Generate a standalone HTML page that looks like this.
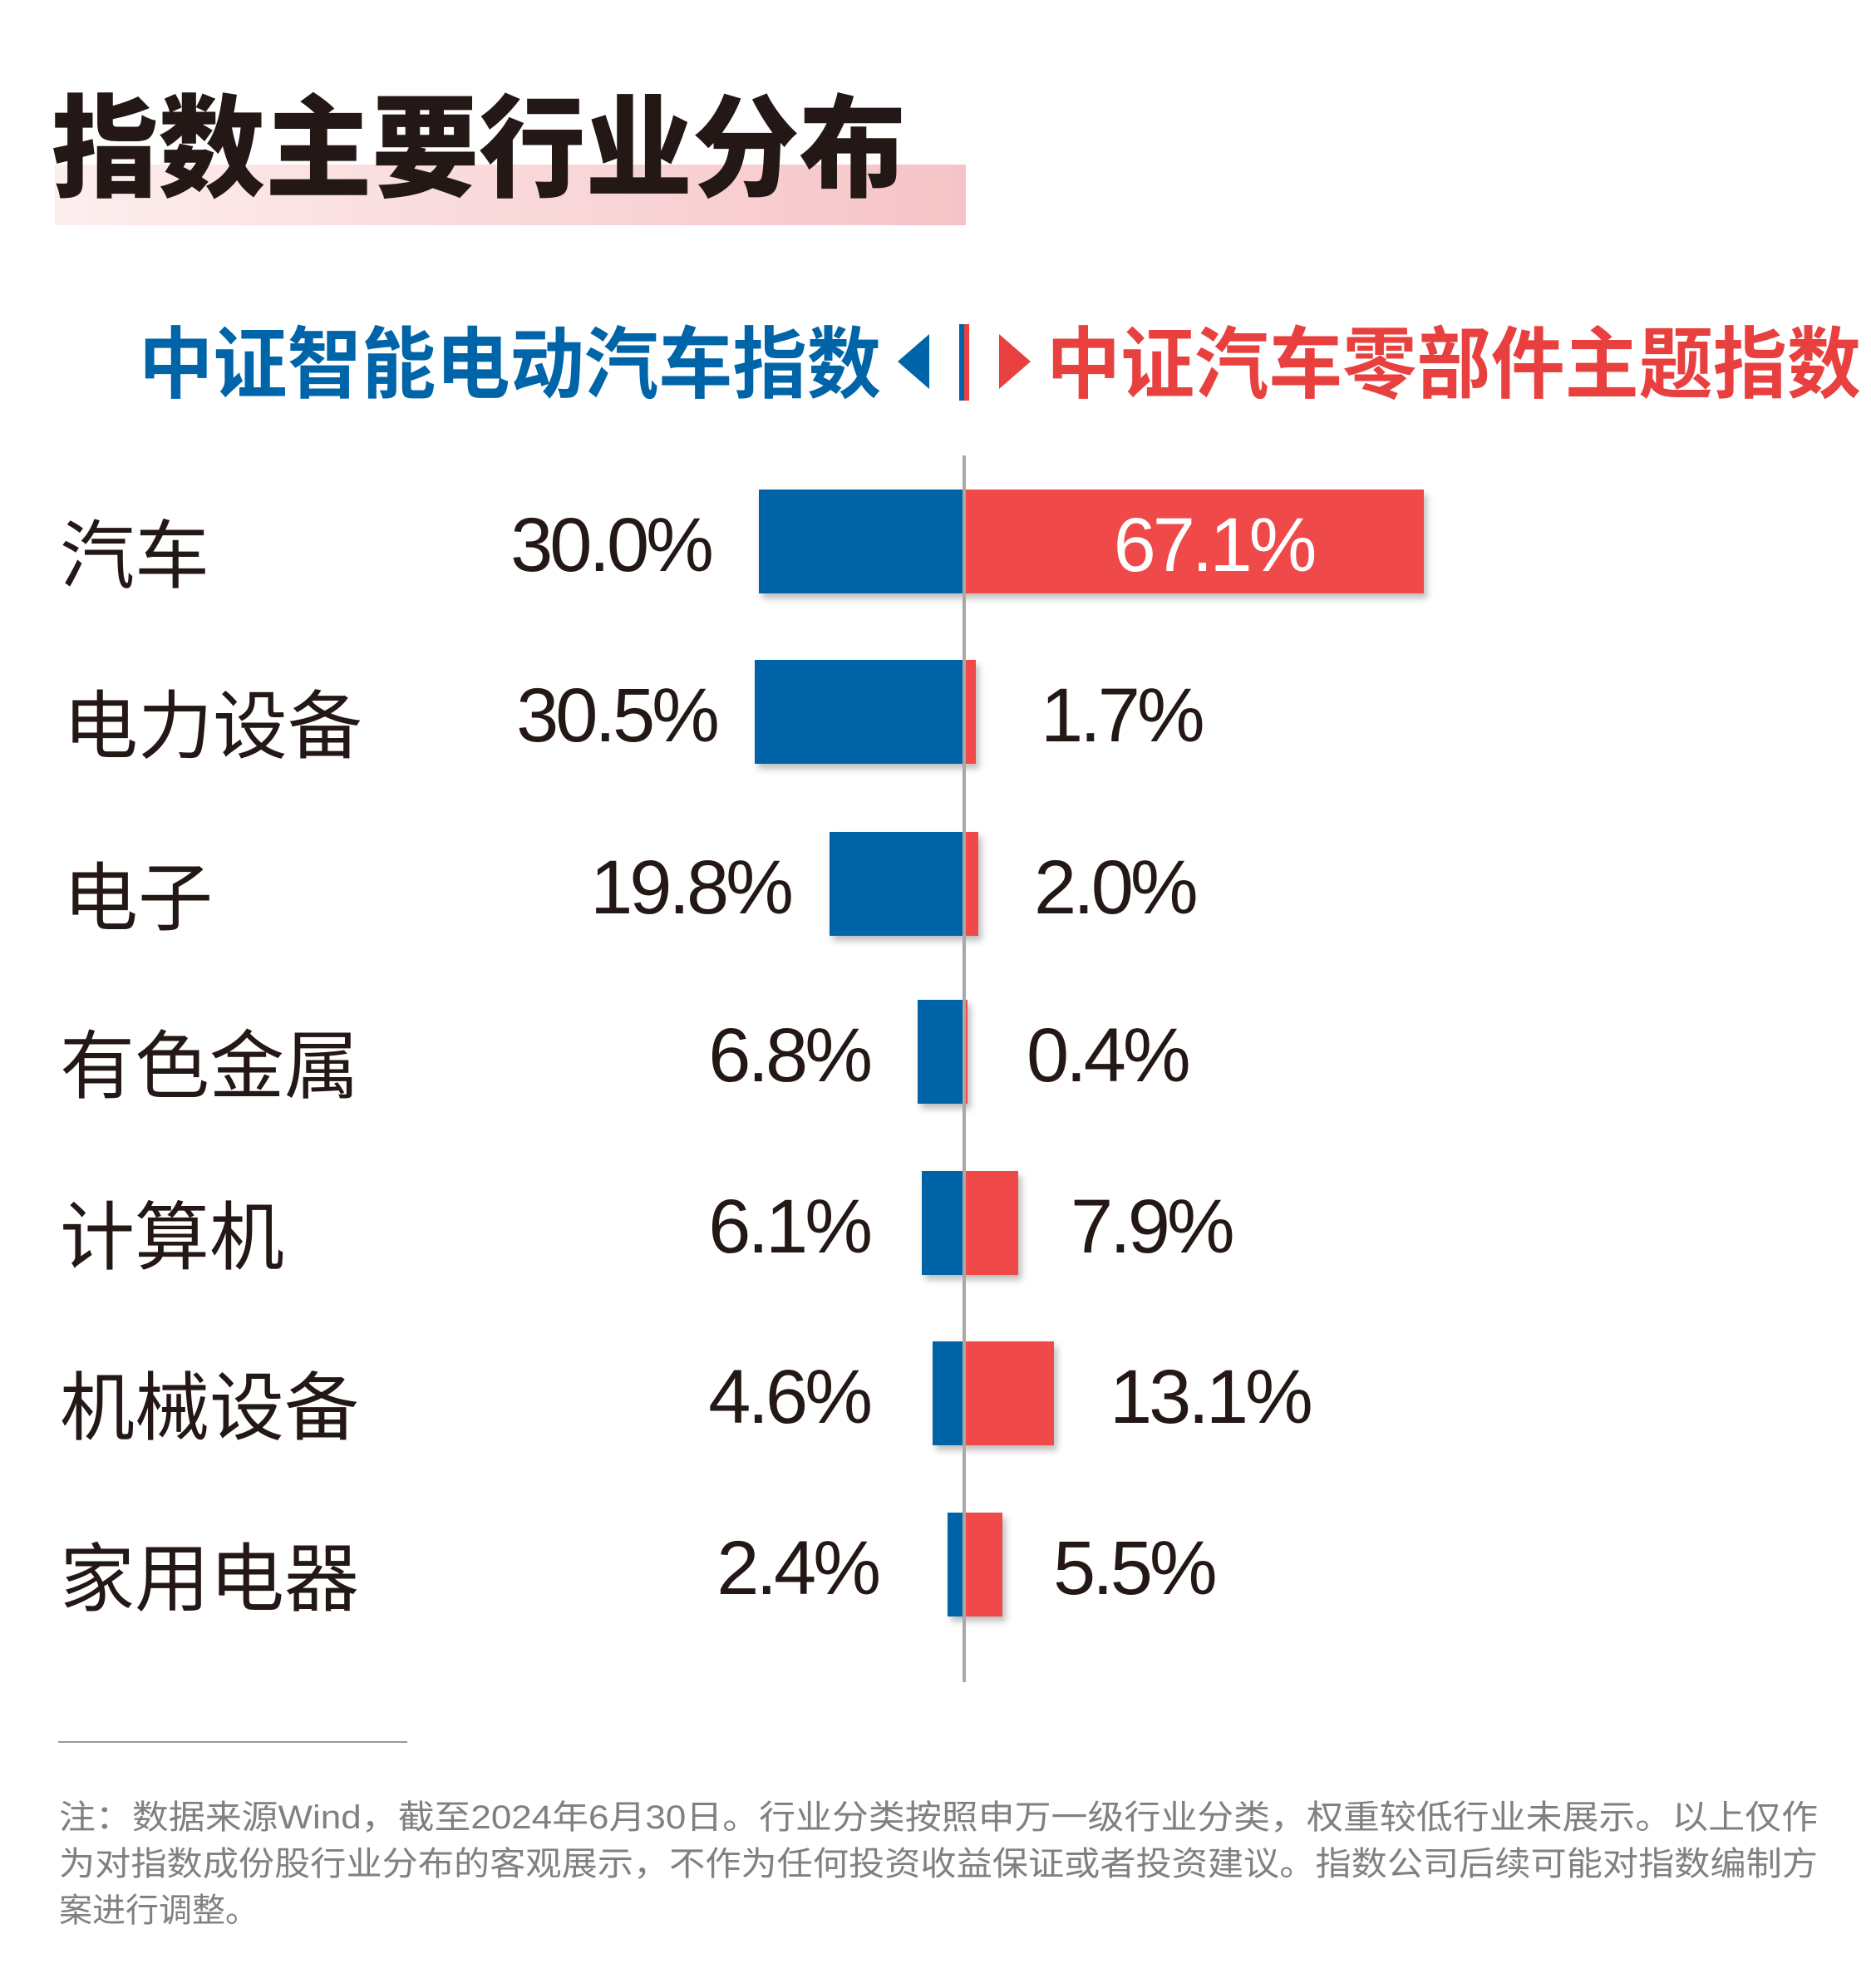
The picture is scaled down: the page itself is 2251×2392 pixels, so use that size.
<!DOCTYPE html>
<html><head><meta charset="utf-8"><style>
html,body{margin:0;padding:0;background:#fff}
svg{display:block}
text{font-family:"Liberation Sans","Noto Sans CJK SC",sans-serif}
</style></head><body>
<svg width="2251" height="2392" viewBox="0 0 2251 2392" xmlns="http://www.w3.org/2000/svg">
<defs>
<linearGradient id="pk" x1="0" x2="1"><stop offset="0" stop-color="#fdeeee"/><stop offset="1" stop-color="#f6c4c7"/></linearGradient>
<filter id="sh" x="-10%" y="-10%" width="130%" height="130%"><feDropShadow dx="4" dy="6" stdDeviation="4" flood-color="#000" flood-opacity="0.25"/></filter>
</defs>
<rect x="66" y="198" width="1096" height="73" fill="url(#pk)"/>
<text x="62" y="226" font-size="134" font-weight="900" fill="#231815" textLength="1028" lengthAdjust="spacingAndGlyphs" font-family="Noto Sans CJK SC,sans-serif">指数主要行业分布</text>

<text x="167" y="471" font-size="94" font-weight="700" fill="#0064a8" textLength="893" lengthAdjust="spacingAndGlyphs" font-family="Noto Sans CJK SC,sans-serif">中证智能电动汽车指数</text>
<polygon points="1118,402 1118,468 1080,435" fill="#0064a8"/>
<rect x="1154" y="390" width="6" height="92" fill="#0064a8"/>
<rect x="1160" y="390" width="6" height="92" fill="#e8403f"/>
<polygon points="1202,402 1202,468 1240,435" fill="#e8403f"/>
<text x="1259" y="471" font-size="94" font-weight="700" fill="#e8403f" textLength="980" lengthAdjust="spacingAndGlyphs" font-family="Noto Sans CJK SC,sans-serif">中证汽车零部件主题指数</text>

<g fill="#231815" font-size="90" font-family="Noto Sans CJK SC,sans-serif">
<text x="72" y="700">汽车</text>
<text x="76" y="905">电力设备</text>
<text x="76" y="1112">电子</text>
<text x="72" y="1314">有色金属</text>
<text x="72" y="1520">计算机</text>
<text x="72" y="1725">机械设备</text>
<text x="72" y="1931">家用电器</text>
</g>

<g filter="url(#sh)">
<rect x="913" y="589" width="247" height="125" fill="#0063a6"/>
<rect x="1160" y="589" width="553" height="125" fill="#ef4a4a"/>
<rect x="908" y="794" width="252" height="125" fill="#0063a6"/>
<rect x="1160" y="794" width="14" height="125" fill="#ef4a4a"/>
<rect x="998" y="1001" width="162" height="125" fill="#0063a6"/>
<rect x="1160" y="1001" width="17" height="125" fill="#ef4a4a"/>
<rect x="1104" y="1203" width="56" height="125" fill="#0063a6"/>
<rect x="1160" y="1203" width="4" height="125" fill="#ef4a4a"/>
<rect x="1109" y="1409" width="51" height="125" fill="#0063a6"/>
<rect x="1160" y="1409" width="65" height="125" fill="#ef4a4a"/>
<rect x="1122" y="1614" width="38" height="125" fill="#0063a6"/>
<rect x="1160" y="1614" width="108" height="125" fill="#ef4a4a"/>
<rect x="1140" y="1820" width="20" height="125" fill="#0063a6"/>
<rect x="1160" y="1820" width="46" height="125" fill="#ef4a4a"/>
</g>
<line x1="1160" y1="548" x2="1160" y2="2024" stroke="#a8a8a8" stroke-width="4"/>

<g fill="#231815" font-size="92" letter-spacing="-4">
<g text-anchor="end">
<text x="855" y="687">30.0%</text>
<text x="862" y="892">30.5%</text>
<text x="951" y="1099">19.8%</text>
<text x="1046" y="1301">6.8%</text>
<text x="1046" y="1507">6.1%</text>
<text x="1046" y="1712">4.6%</text>
<text x="1056" y="1918">2.4%</text>
</g>
<text x="1460" y="687" text-anchor="middle" fill="#fff">67.1%</text>
<text x="1252" y="892">1.7%</text>
<text x="1244" y="1099">2.0%</text>
<text x="1235" y="1301">0.4%</text>
<text x="1288" y="1507">7.9%</text>
<text x="1335" y="1712">13.1%</text>
<text x="1267" y="1918">5.5%</text>
</g>

<line x1="70" y1="2096" x2="490" y2="2096" stroke="#999" stroke-width="2"/>
<g fill="#808080" font-size="40">
<text x="71" y="2200" textLength="2116" lengthAdjust="spacingAndGlyphs">注：数据来源Wind，截至2024年6月30日。行业分类按照申万一级行业分类，权重较低行业未展示。以上仅作</text>
<text x="71" y="2256" textLength="2116" lengthAdjust="spacingAndGlyphs">为对指数成份股行业分布的客观展示，不作为任何投资收益保证或者投资建议。指数公司后续可能对指数编制方</text>
<text x="71" y="2312">案进行调整。</text>
</g>
</svg>
</body></html>
